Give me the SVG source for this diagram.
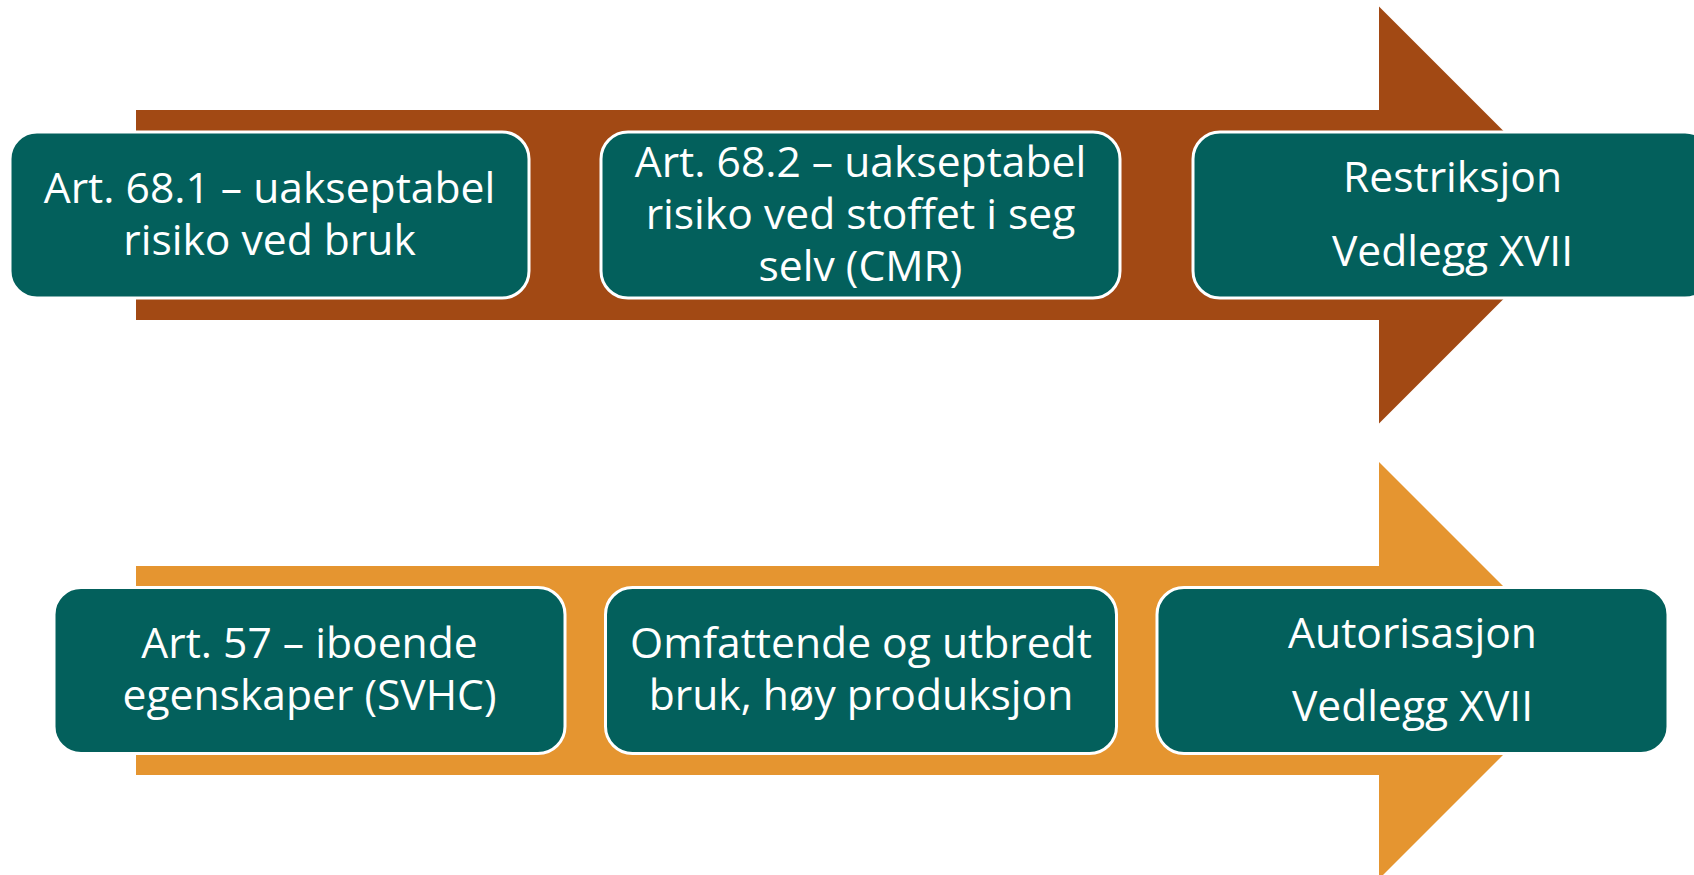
<svg xmlns="http://www.w3.org/2000/svg" width="1694" height="875" viewBox="0 0 1694 875">
<style>
.box{fill:#03605C;stroke:#FFFFFF;stroke-width:3}
.t{font-family:"Open Sans","Noto Sans","DejaVu Sans",sans-serif;font-size:42.6px;fill:#FFFFFF;text-anchor:middle}
</style>
<rect width="1694" height="875" fill="#FFFFFF"/>
<g id="connectors">
<polygon id="arrow-top" fill="#A24914" points="136,110 1379,110 1379,6.5 1587.5,215 1379,423.5 1379,320 136,320"/>
<polygon id="arrow-bottom" fill="#E59530" points="136,566 1379,566 1379,462 1587.5,670.5 1379,879 1379,775 136,775"/>
</g>
<g id="node-art681">
<rect class="box" x="10" y="132" width="519" height="166" rx="27"/>
<text class="t" x="269.5" y="203">Art. 68.1 – uakseptabel</text>
<text class="t" x="269.5" y="255">risiko ved bruk</text>
</g>
<g id="node-art682">
<rect class="box" x="601" y="132" width="519" height="166" rx="27"/>
<text class="t" x="860.5" y="177">Art. 68.2 – uakseptabel</text>
<text class="t" x="860.5" y="229">risiko ved stoffet i seg</text>
<text class="t" x="860.5" y="281">selv (CMR)</text>
</g>
<g id="node-restriksjon">
<rect class="box" x="1193" y="132" width="519" height="166" rx="27"/>
<text class="t" x="1452.5" y="192">Restriksjon</text>
<text class="t" x="1452.5" y="266">Vedlegg XVII</text>
</g>
<g id="node-art57">
<rect class="box" x="54" y="587.5" width="511" height="166" rx="27"/>
<text class="t" x="309.5" y="658">Art. 57 – iboende</text>
<text class="t" x="309.5" y="710">egenskaper (SVHC)</text>
</g>
<g id="node-omfattende">
<rect class="box" x="605.5" y="587.5" width="511" height="166" rx="27"/>
<text class="t" x="861" y="658">Omfattende og utbredt</text>
<text class="t" x="861" y="710">bruk, høy produksjon</text>
</g>
<g id="node-autorisasjon">
<rect class="box" x="1157" y="587.5" width="511" height="166" rx="27"/>
<text class="t" x="1412.5" y="648">Autorisasjon</text>
<text class="t" x="1412.5" y="721">Vedlegg XVII</text>
</g>
</svg>
